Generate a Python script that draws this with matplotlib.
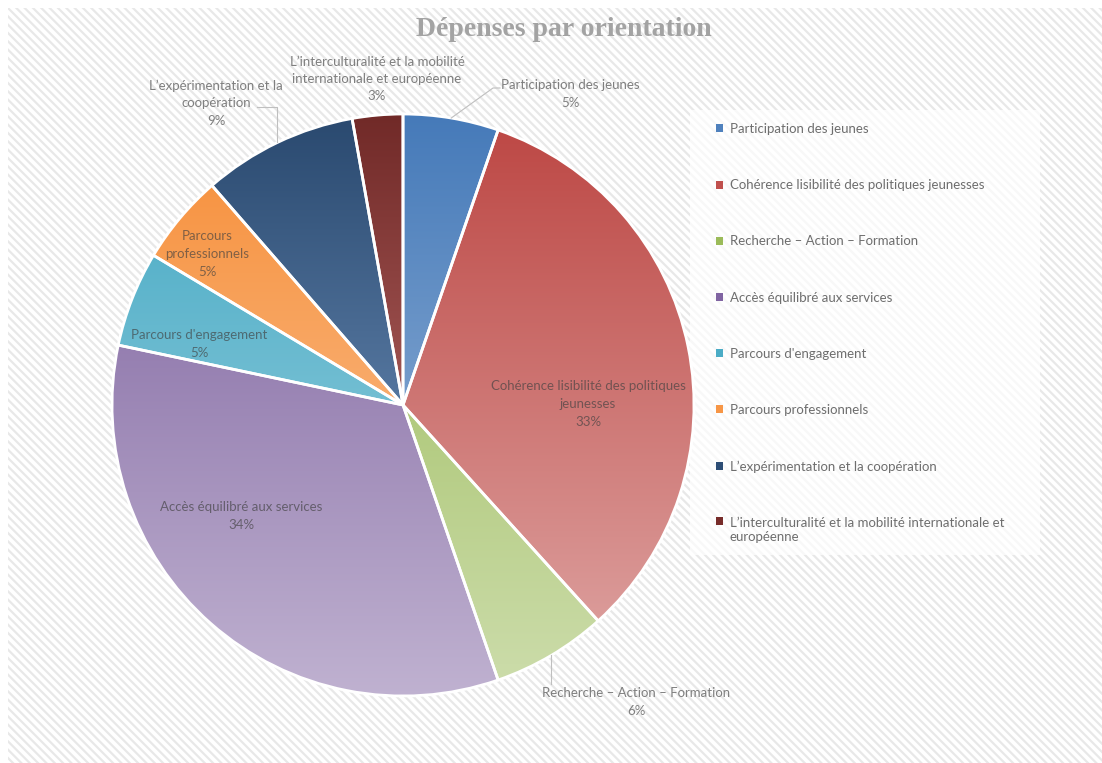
import colorsys
import numpy as np
import matplotlib
matplotlib.use("Agg")
import matplotlib.pyplot as plt
from matplotlib.colors import to_rgb, LinearSegmentedColormap
from matplotlib.patches import Patch, Rectangle

plt.rcParams['font.family'] = ['Lato', 'DejaVu Sans']
plt.rcParams['hatch.linewidth'] = 1.6

# data
categories = ["Participation des jeunes",
              "Cohérence lisibilité des politiques jeunesses",
              "Recherche – Action – Formation",
              "Accès équilibré aux services",
              "Parcours d'engagement",
              "Parcours professionnels",
              "L’expérimentation et la coopération",
              "L’interculturalité et la mobilité internationale et européenne"]
values = [5.3, 33.0, 6.4, 33.6, 5.3, 5.0, 8.6, 2.8]
colors = ["#4F81BD", "#C0504D", "#9BBB59", "#8064A2",
          "#4BACC6", "#F79646", "#2C4D75", "#772C2A"]
slice_labels = ["Participation des jeunes",
                "Cohérence lisibilité des politiques\njeunesses",
                "Recherche – Action – Formation",
                "Accès équilibré aux services",
                "Parcours d'engagement",
                "Parcours\nprofessionnels",
                "L’expérimentation et la\ncoopération",
                "L’interculturalité et la mobilité\ninternationale et européenne"]
legend_labels = categories[:7] + ["L’interculturalité et la mobilité internationale et\neuropéenne"]

W, H = 1102, 763
fig = plt.figure(figsize=(W / 100, H / 100), dpi=100)

# hatched background
fig.patches.append(Rectangle((8 / W, 0), 1, 1 - 8 / H, transform=fig.transFigure,
                             facecolor='white', edgecolor='#e8e8e8', hatch='\\\\\\\\',
                             linewidth=0, zorder=-2))
# white-ish legend box
fig.patches.append(Rectangle((690 / W, 1 - 555 / H), 350 / W, 445 / H, transform=fig.transFigure,
                             facecolor='white', alpha=0.7, linewidth=0, zorder=-1))

cx, cy, R = 403, 405, 291
ax = fig.add_axes([(cx - R) / W, (H - cy - R) / H, 2 * R / W, 2 * R / H])
ax.set_axis_off()

wedges, _ = ax.pie(values, startangle=90, counterclock=False, radius=1,
                   wedgeprops=dict(edgecolor='white', linewidth=2))

grad = np.linspace(0, 1, 256).reshape(-1, 1)
for w, c in zip(wedges, colors):
    h, l, s = colorsys.rgb_to_hls(*to_rgb(c))
    top = colorsys.hls_to_rgb(h, l * 0.95, s)
    bot = colorsys.hls_to_rgb(h, l + (1 - l) * 0.5, s)
    cmap = LinearSegmentedColormap.from_list('g', [bot, top])
    im = ax.imshow(grad, extent=[-1, 1, -1, 1], origin='lower', cmap=cmap,
                   aspect='auto', zorder=1)
    im.set_clip_path(w)
    w.set_facecolor('none')
    w.set_zorder(2)

ax.set_xlim(-1, 1)
ax.set_ylim(-1, 1)
ax.set_aspect('equal')


def px(x, y):
    return (x - cx) / R, (cy - y) / R


# label positions (pixels) and whether inside the pie
label_pos = [(570, 94), (588, 404), (636, 702), (241, 516),
             (199, 344), (207, 254), (216, 103), (377, 79)]
inside = [False, True, False, True, True, True, False, False]
pct = [f"{int(v + 0.5)}%" for v in values]
for lab, p, pos, ins in zip(slice_labels, pct, label_pos, inside):
    x, y = px(*pos)
    ax.text(x, y, lab + "\n" + p, ha='center', va='center', fontsize=9.5,
            color='#404040' if ins else '#7f7f7f', alpha=0.65 if ins else 1,
            linespacing=1.55, zorder=5, clip_on=False)

# leader lines from the middle of the slice edge
cum = np.cumsum([0] + values)
mids = (cum[:-1] + cum[1:]) / 2 / sum(values) * 2 * np.pi
anch = [(np.sin(a), np.cos(a)) for a in mids]
# Participation
ex, ey = px(493, 88)
fx, _ = px(500, 88)
ax.plot([anch[0][0], ex, fx], [anch[0][1], ey, ey], color='#bfbfbf', lw=0.8, clip_on=False)
# Expérimentation
_, ey = px(0, 107)
fx, _ = px(257, 107)
ax.plot([anch[6][0], anch[6][0], fx], [anch[6][1], ey, ey], color='#bfbfbf', lw=0.8, clip_on=False)
# Recherche
_, ey = px(0, 684)
ax.plot([anch[2][0], anch[2][0]], [anch[2][1], ey], color='#bfbfbf', lw=0.8, clip_on=False)

fig.text(564 / W, 1 - 29 / H, "Dépenses par orientation", ha='center', va='center',
         fontsize=20, fontweight='bold', color='#a3a3a3', family='Liberation Serif')

handles = [Patch(facecolor=c, edgecolor='none') for c in colors]
leg = fig.legend(handles, legend_labels, loc='upper left',
                 bbox_to_anchor=(716 / W, 1 - 123 / H), frameon=False,
                 fontsize=9.5, labelcolor='#6e6e6e', handlelength=0.55, handleheight=0.55,
                 handletextpad=0.5, labelspacing=3.35, borderpad=0, borderaxespad=0)
# marker of the two-line entry sits on its first line
try:
    col = leg._legend_handle_box.get_children()[0]
    entry = col.get_children()[-1]
    entry.align = 'top'
except Exception:
    pass

fig.savefig("out.png", dpi=100)
